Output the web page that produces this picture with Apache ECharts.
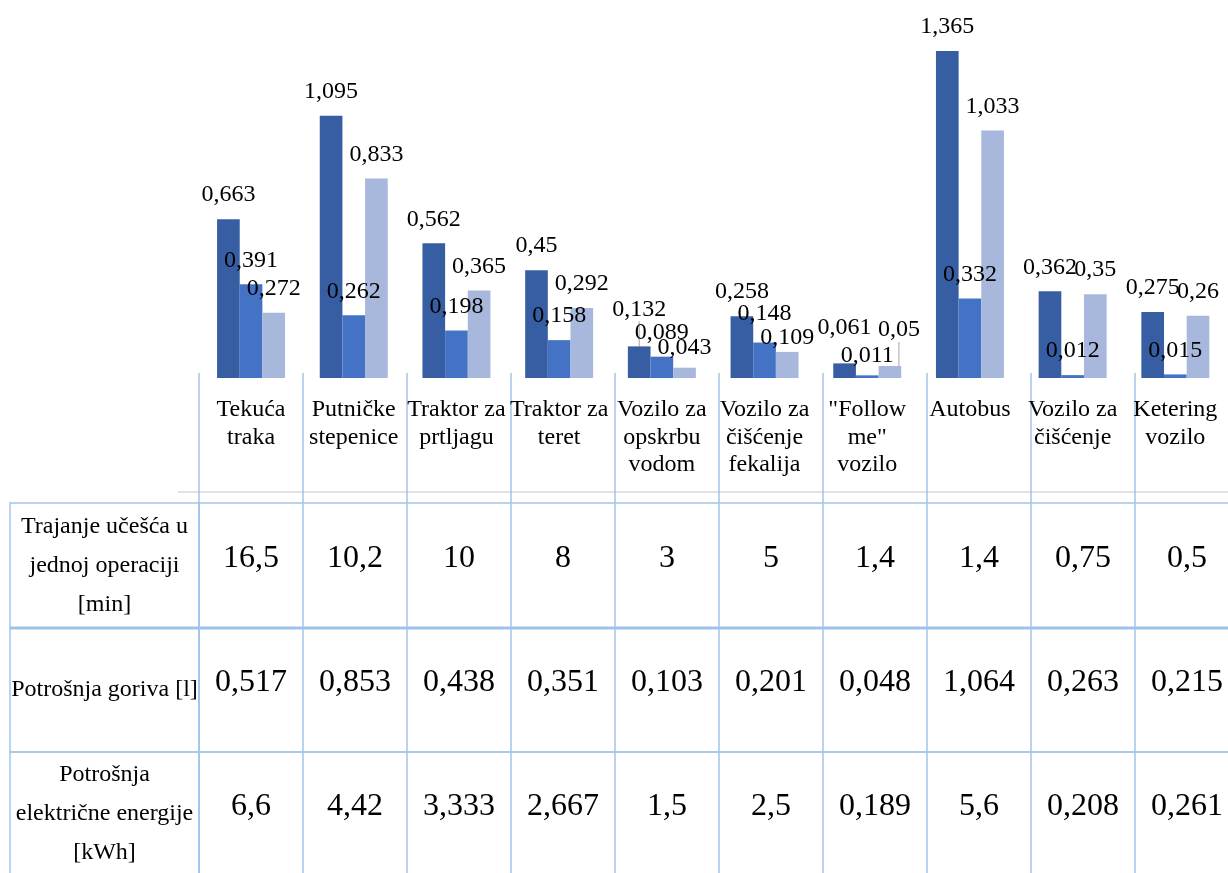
<!DOCTYPE html>
<html>
<head>
<meta charset="utf-8">
<script src="https://cdn.jsdelivr.net/npm/echarts@6/dist/echarts.min.js"></script>
<style>
html,body{margin:0;padding:0;background:#fff;}
#chart{width:1228px;height:873px;}
</style>
</head>
<body>
<div id="chart"></div>
<script>
// ---- data ----
var categories = ['Tekuća\ntraka', 'Putničke\nstepenice', 'Traktor za\nprtljagu', 'Traktor za\nteret', 'Vozilo za\nopskrbu\nvodom', 'Vozilo za\nčišćenje\nfekalija', '"Follow\nme"\nvozilo', 'Autobus', 'Vozilo za\nčišćenje', 'Ketering\nvozilo'];
var seriesA = [0.663, 1.095, 0.562, 0.45, 0.132, 0.258, 0.061, 1.365, 0.362, 0.275];
var seriesB = [0.391, 0.262, 0.198, 0.158, 0.089, 0.148, 0.011, 0.332, 0.012, 0.015];
var seriesC = [0.272, 0.833, 0.365, 0.292, 0.043, 0.109, 0.05, 1.033, 0.35, 0.26];
var rowLabels = ['Trajanje učešća u\njednoj operaciji\n[min]', 'Potrošnja goriva [l]', 'Potrošnja\nelektrične energije\n[kWh]'];
var durationMin = [16.5, 10.2, 10, 8, 3, 5, 1.4, 1.4, 0.75, 0.5];
var fuelL = [0.517, 0.853, 0.438, 0.351, 0.103, 0.201, 0.048, 1.064, 0.263, 0.215];
var electricKWh = [6.6, 4.42, 3.333, 2.667, 1.5, 2.5, 0.189, 5.6, 0.208, 0.261];

// ---- styles ----
var FONT = "'Liberation Serif', 'Times New Roman', serif";
var LINE = '#A2C6EA';
var COLORS = ['#375EA3', '#4472C4', '#A8B7DC'];
// manual label nudges (style only): key "series-index" -> [dx, dy, leaderLine]
var LABEL_NUDGE = {
  '0-4': [0, -13, true], '0-6': [0, -12, false],
  '1-5': [0, -5, false], '1-6': [0, 4, false],
  '2-4': [0, 4, false], '2-5': [0, 10, false], '2-6': [9, -12, true]
};
var ROW_LABEL_PAD = [20, 18, 8];
function fmt(v) { return String(v).replace('.', ','); }

var chart = echarts.init(document.getElementById('chart'));

function g(o) { o.outerBoundsMode = 'none'; o.containLabel = false; return o; }
var grids = [
  g({left: 199.7, width: 1027, top: 18.6, height: 359.4, show: false}),       // bars
  g({left: 199, width: 1040, top: 373, height: 130, show: false}),             // label area lines
  g({left: 199, width: 1040, top: 503, height: 125, show: true, borderColor: LINE, borderWidth: 1.5, backgroundColor: 'transparent'}),
  g({left: 199, width: 1040, top: 628, height: 124, show: true, borderColor: LINE, borderWidth: 1.5, backgroundColor: 'transparent'}),
  g({left: 199, width: 1040, top: 752, height: 124, show: true, borderColor: LINE, borderWidth: 1.5, backgroundColor: 'transparent'})
];

var xAxes = [
  {
    type: 'category', gridIndex: 0, data: categories,
    axisLine: {show: false}, axisTick: {show: false},
    axisLabel: {interval: 0, margin: 18, fontFamily: FONT, fontSize: 24, lineHeight: 27.5, color: '#000', align: 'center', verticalAlign: 'top'}
  },
  {
    type: 'category', gridIndex: 1, data: categories,
    axisLine: {show: false}, axisTick: {show: false}, axisLabel: {show: false},
    splitLine: {show: true, interval: 0, lineStyle: {color: LINE, width: 1.5}}
  }
];
var yAxes = [
  {type: 'value', gridIndex: 0, min: 0, max: 1.5, show: false},
  {type: 'value', gridIndex: 1, min: 0, max: 1, show: false}
];

var tableRows = [durationMin, fuelL, electricKWh];
var series = [];

[seriesA, seriesB, seriesC].forEach(function (arr, k) {
  series.push({
    type: 'bar', name: 'S' + (k + 1), xAxisIndex: 0, yAxisIndex: 0,
    data: arr.map(function (v, i) {
      var n = LABEL_NUDGE[k + '-' + i];
      var item = {value: v};
      if (n && n[2]) item.labelLine = {show: true, lineStyle: {color: '#A6A6A6', width: 1}};
      return item;
    }),
    barGap: '0%', barCategoryGap: '33.8%',
    itemStyle: {color: COLORS[k]},
    label: {
      show: true, position: 'top', distance: 12,
      fontFamily: FONT, fontSize: 24, color: '#000', lineHeight: 24,
      formatter: function (p) { return fmt(p.value); }
    },
    labelLayout: function (p) {
      var n = LABEL_NUDGE[p.seriesIndex + '-' + p.dataIndex];
      return n ? {dx: n[0], dy: n[1]} : {};
    },
    silent: true
  });
});

tableRows.forEach(function (row, r) {
  var gi = r + 2;
  xAxes.push({
    type: 'category', gridIndex: gi, data: categories,
    axisLine: {show: false}, axisTick: {show: false}, axisLabel: {show: false},
    splitLine: {show: true, interval: 0, lineStyle: {color: LINE, width: 1.5}}
  });
  yAxes.push({
    type: 'category', gridIndex: gi, data: [rowLabels[r]],
    axisLine: {show: false}, axisTick: {show: false}, splitLine: {show: false},
    axisLabel: {margin: 94.5, align: 'center', fontFamily: FONT, fontSize: 24, lineHeight: 39, color: '#000', verticalAlign: 'middle',
      padding: [0, 0, ROW_LABEL_PAD[r], 0]}
  });
  series.push({
    type: 'scatter', xAxisIndex: gi, yAxisIndex: gi, symbolSize: 0,
    data: row.map(function (v, i) { return [i, 0, v]; }),
    itemStyle: {opacity: 1},
    label: {
      show: true, position: 'inside', offset: [0, -7],
      fontFamily: FONT, fontSize: 32, color: '#000', opacity: 1,
      formatter: function (p) { return fmt(p.value[2]); }
    },
    silent: true
  });
});

var graphic = [
  {type: 'line', shape: {x1: 178, y1: 492, x2: 1228, y2: 492}, style: {stroke: '#D9D9D9', lineWidth: 1.5}},
  {type: 'rect', shape: {x: 10, y: 503, width: 189, height: 125}, style: {fill: 'none', stroke: LINE, lineWidth: 1.5}},
  {type: 'rect', shape: {x: 10, y: 628, width: 189, height: 124}, style: {fill: 'none', stroke: LINE, lineWidth: 1.5}},
  {type: 'rect', shape: {x: 10, y: 752, width: 189, height: 124}, style: {fill: 'none', stroke: LINE, lineWidth: 1.5}},
  {type: 'line', shape: {x1: 10, y1: 628, x2: 1228, y2: 628}, style: {stroke: '#9DC3E6', lineWidth: 3}}
];

chart.setOption({
  animation: false,
  backgroundColor: '#fff',
  grid: grids,
  xAxis: xAxes,
  yAxis: yAxes,
  series: series,
  graphic: graphic
});
</script>
</body>
</html>
